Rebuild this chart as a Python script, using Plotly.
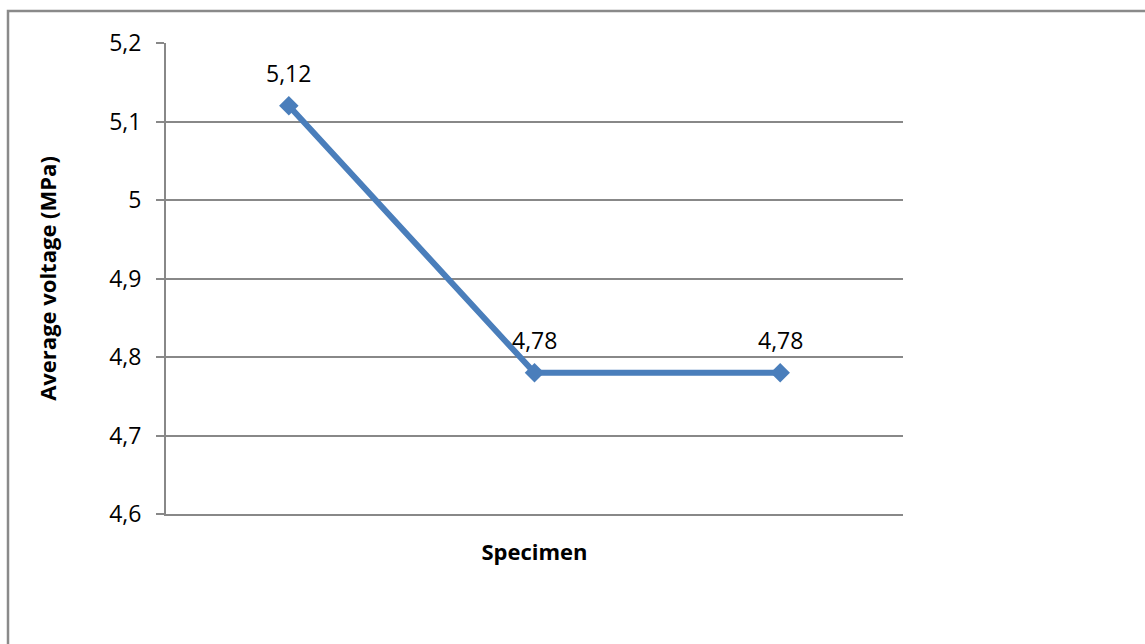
import plotly.graph_objects as go

# Average voltage per specimen
specimens = [1, 2, 3]
avg_voltage = [5.12, 4.78, 4.78]
value_labels = ["5,12", "4,78", "4,78"]
y_ticks = [4.6, 4.7, 4.8, 4.9, 5.0, 5.1, 5.2]

W, H = 1145, 644
ML, MR, MT, MB = 166, 242, 43, 130
pw, ph = W - ML - MR, H - MT - MB

blue = "#4A7EBB"
grid = "#888888"
font = "Open Sans, Liberation Sans, sans-serif"

fig = go.Figure()
fig.add_trace(go.Scatter(
    x=specimens, y=avg_voltage, mode="lines+markers",
    line=dict(color=blue, width=6),
    marker=dict(symbol="diamond", size=15, color=blue),
    cliponaxis=False, showlegend=False, hoverinfo="skip",
))

# value labels above each point
for xv, yv, t in zip(specimens, avg_voltage, value_labels):
    fig.add_annotation(x=xv, y=yv, text=t, showarrow=False, yshift=33,
                       font=dict(family=font, size=23, color="#000000"))

# outer chart frame (open on the right and bottom)
fx0 = (8 - ML) / pw
fy1 = 1 + (MT - 11) / ph
fx1 = (W - ML) / pw
fy0 = -(MB) / ph - 0.01
fig.add_shape(type="path", xref="paper", yref="paper",
              path=f"M {fx0} {fy0} L {fx0} {fy1} L {fx1} {fy1}",
              line=dict(color="#8A8A8A", width=2.5))

fig.update_layout(
    width=W, height=H,
    margin=dict(l=ML, r=MR, t=MT, b=MB, pad=0),
    paper_bgcolor="white", plot_bgcolor="white",
    separators=",.",
    font=dict(family=font, size=23, color="#000000"),
    xaxis=dict(
        range=[0.5, 3.5], showticklabels=False,
        showgrid=False, showline=True, linecolor=grid, linewidth=2,
        ticks="", zeroline=False,
        title=dict(text="<b>Specimen</b>", font=dict(size=22), standoff=30),
    ),
    yaxis=dict(
        range=[4.6, 5.2], tickvals=y_ticks, showgrid=True,
        gridcolor=grid, gridwidth=2, showline=True, linecolor=grid,
        linewidth=2, ticks="outside", ticklen=8, tickcolor=grid,
        tickwidth=2, ticklabelstandoff=10, zeroline=False,
        tickfont=dict(size=23),
        title=dict(text="<b>Average voltage (MPa)</b>", font=dict(size=22),
                   standoff=46),
    ),
)

fig.write_html("out.html")
